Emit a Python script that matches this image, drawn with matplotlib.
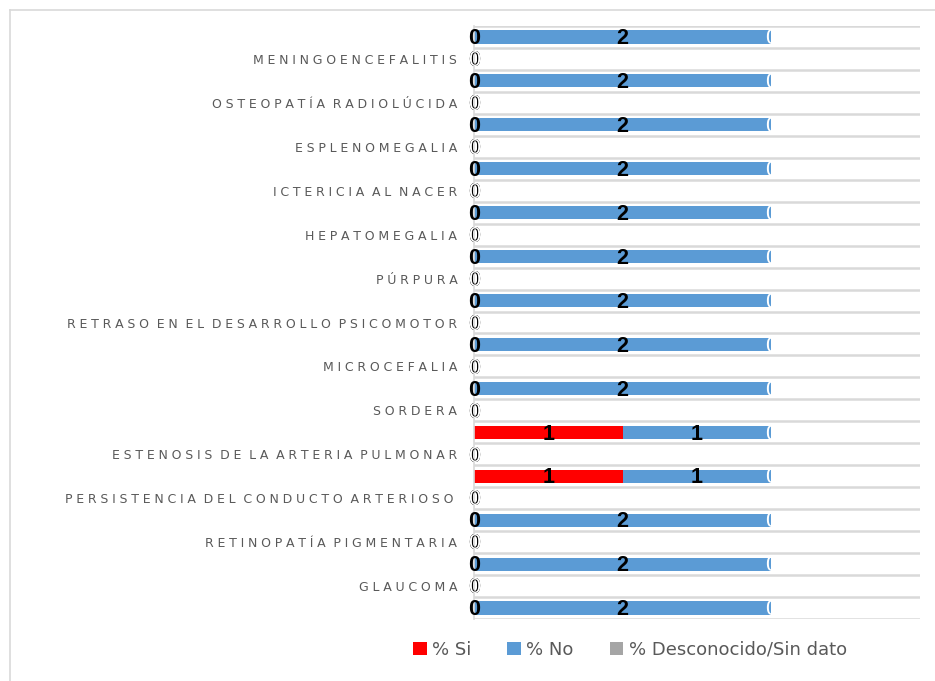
import matplotlib
matplotlib.use("Agg")
import matplotlib.pyplot as plt
from matplotlib.patches import Patch
from matplotlib.lines import Line2D

# filas del grafico, de arriba hacia abajo (las filas vacias llevan las barras)
categorias = ["", "MENINGOENCEFALITIS", "", "OSTEOPATÍA RADIOLÚCIDA", "",
              "ESPLENOMEGALIA", "", "ICTERICIA AL NACER", "", "HEPATOMEGALIA", "",
              "PÚRPURA", "", "RETRASO EN EL DESARROLLO PSICOMOTOR", "",
              "MICROCEFALIA", "", "SORDERA", "", "ESTENOSIS DE LA ARTERIA PULMONAR", "",
              "PERSISTENCIA DEL CONDUCTO ARTERIOSO ", "", "RETINOPATÍA PIGMENTARIA", "",
              "GLAUCOMA", ""]

si = [0, 0, 0, 0, 0, 0, 0, 0, 0, 0, 0, 0, 0, 0, 0, 0, 0, 0, 1, 0, 1, 0, 0, 0, 0, 0, 0]
no = [2, 0, 2, 0, 2, 0, 2, 0, 2, 0, 2, 0, 2, 0, 2, 0, 2, 0, 1, 0, 1, 0, 2, 0, 2, 0, 2]
desc = [0, 0, 0, 0, 0, 0, 0, 0, 0, 0, 0, 0, 0, 0, 0, 0, 0, 0, 0, 0, 0, 0, 0, 0, 0, 0, 0]

series = [("% Si", si, "#FF0000", "black", "bold"),
          ("% No", no, "#5B9BD5", "black", "bold"),
          ("% Desconocido/Sin dato", desc, "#A5A5A5", "white", "normal")]


def espaciado(txt):
    # separacion entre letras (no se agrega antes de un espacio)
    sep = "\u2009\u200a"
    out = ""
    for k, ch in enumerate(txt):
        out += ch
        if k < len(txt) - 1 and txt[k + 1] != " ":
            out += sep
    return out


fig = plt.figure(figsize=(9.35, 6.81), dpi=100)
ax = fig.add_axes([474 / 935, 1 - 619 / 681, (920 - 474) / 935, (619 - 26) / 681])

y = list(range(len(categorias)))
izq = [0] * len(categorias)
for nombre, vals, color, col_txt, peso in series:
    ax.barh(y, vals, left=izq, height=0.6, color=color, zorder=2)
    for i in y:
        ax.text(izq[i] + vals[i] / 2, i + 0.08, str(vals[i]), ha="center", va="center",
                color=col_txt, fontsize=15.5, fontweight=peso,
                family="Liberation Sans", zorder=4)
    izq = [a + b for a, b in zip(izq, vals)]

ax.set_xlim(0, 3)
ax.set_ylim(len(categorias) - 0.5, -0.5)
ax.set_yticks(y)
ax.set_yticklabels([espaciado(c) for c in categorias], fontsize=9, color="#595959")
ax.set_yticks([i - 0.5 for i in range(len(categorias) + 1)], minor=True)
ax.tick_params(axis="y", which="both", length=0, pad=12)
ax.grid(axis="y", which="minor", color="#D9D9D9", linewidth=1.8, zorder=0)
ax.set_xticks([])
for lado in ["top", "right", "bottom"]:
    ax.spines[lado].set_visible(False)
ax.spines["left"].set_color("#D9D9D9")
ax.spines["left"].set_linewidth(1.2)

manijas = [Patch(facecolor=c, edgecolor="none") for _, _, c, _, _ in series]
fig.legend(manijas, [s[0] for s in series], loc="center", ncol=3,
           bbox_to_anchor=(630 / 935, 1 - 650 / 681), frameon=False,
           fontsize=13, labelcolor="#595959", handlelength=0.75, handleheight=0.75,
           handletextpad=0.3, columnspacing=2.0)

# marco del area del grafico
fig.add_artist(Line2D([10 / 935, 10 / 935], [0, 1 - 10 / 681], color="#D9D9D9", linewidth=1.2))
fig.add_artist(Line2D([10 / 935, 1], [1 - 10 / 681, 1 - 10 / 681], color="#D9D9D9", linewidth=1.2))

fig.savefig("out.png", dpi=100)
